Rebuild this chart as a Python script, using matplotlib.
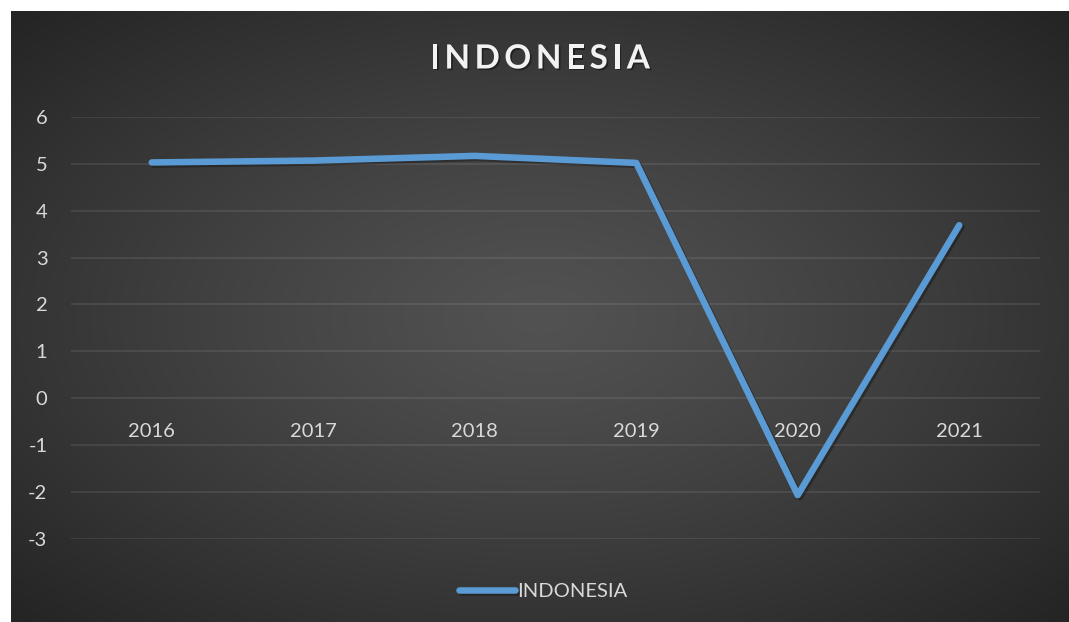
import numpy as np
import matplotlib
matplotlib.use('Agg')
from matplotlib import pyplot as plt
from matplotlib import patheffects as pe
from matplotlib.font_manager import FontProperties

years = ['2016', '2017', '2018', '2019', '2020', '2021']
growth = [5.03, 5.07, 5.17, 5.02, -2.07, 3.69]
yticks = [-3, -2, -1, 0, 1, 2, 3, 4, 5, 6]
series_name = 'INDONESIA'
title = 'INDONESIA'

W, H = 1069, 622
fig = plt.figure(figsize=(W / 100, H / 100), dpi=100)
fig.patch.set_facecolor('white')

# dark radial gradient chart area (white strip on top / left)
bg = fig.add_axes([11 / W, 0, (W - 11) / W, (H - 11) / H])
gx, gy = np.meshgrid(np.linspace(-1, 1, 400), np.linspace(-1, 1, 240))
r = np.clip(np.sqrt(gx ** 2 + gy ** 2) / np.sqrt(2), 0, 1)
c0, c1 = 0x52 / 255, 0x24 / 255
g = c0 + (c1 - c0) * r ** 1.2
bg.imshow(np.dstack([g, g, g]), aspect='auto', extent=[0, 1, 0, 1], interpolation='bilinear')
bg.set_axis_off()

ax = fig.add_axes([71 / W, (H - 538.7) / H, 969 / W, 421.7 / H])
ax.set_facecolor('none')
x = np.arange(len(years))
ax.plot(x, growth, color='#5B9BD5', lw=4.7, solid_capstyle='round', solid_joinstyle='round',
        label=series_name, zorder=3,
        path_effects=[pe.SimpleLineShadow(offset=(1.5, -1.5), alpha=0.3, shadow_color='black'), pe.Normal()])

ax.set_xlim(-0.5, len(years) - 0.5)
ax.set_ylim(-3, 6)
ax.set_yticks(yticks)
ax.set_yticklabels([str(v) for v in yticks])
ax.set_xticks([])
ax.grid(axis='y', color='white', alpha=0.09, lw=1.3)
ax.set_axisbelow(True)
for s in ax.spines.values():
    s.set_visible(False)
ax.tick_params(axis='y', length=0, pad=17, labelcolor='#D9D9D9', labelsize=14.5)
for lab in ax.get_yticklabels():
    lab.set_family('Lato')

# category labels sit next to the zero line
for i, yr in enumerate(years):
    ax.annotate(yr, (i, 0), xytext=(0, -33), textcoords='offset pixels', ha='center', va='center',
                color='#D9D9D9', fontsize=14.5, family='Lato', zorder=2)

# title with letter spacing
fp = FontProperties(family='Lato', weight='bold', size=24)
fig.canvas.draw()
rend = fig.canvas.get_renderer()
widths = [rend.get_text_width_height_descent(ch, fp, ismath=False)[0] for ch in title]
gap = 4.5
total = sum(widths) + gap * (len(title) - 1)
xpos = 540 - total / 2
for ch, w in zip(title, widths):
    fig.text(xpos / W, 1 - 59 / H, ch, fontproperties=fp, color='#F2F2F2', ha='left', va='center',
             path_effects=[pe.withSimplePatchShadow(offset=(1.2, -1.2), alpha=0.4, shadow_rgbFace='black')])
    xpos += w + gap

leg = fig.legend(loc='center', bbox_to_anchor=(543 / W, 1 - 591 / H), frameon=False,
                 handlelength=2.8, handletextpad=0.1, prop={'family': 'Lato', 'size': 14.5})
for t in leg.get_texts():
    t.set_color('#D9D9D9')

fig.savefig('out.png', dpi=100, facecolor=fig.get_facecolor())
